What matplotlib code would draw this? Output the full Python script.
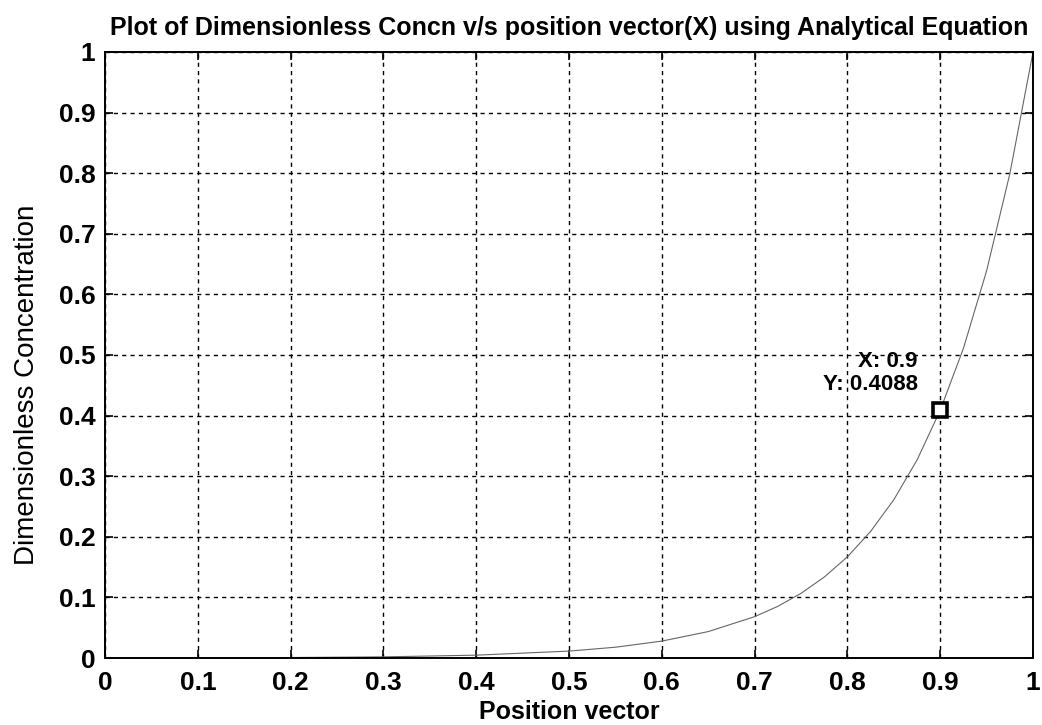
import matplotlib.pyplot as plt

plt.rcParams['font.family'] = ['Liberation Sans', 'DejaVu Sans']

# concentration profile read along the position vector
pos = [0.0, 0.1, 0.2, 0.3, 0.4, 0.5, 0.55, 0.6, 0.65, 0.7, 0.725, 0.75, 0.775,
       0.8, 0.825, 0.85, 0.875, 0.9, 0.925, 0.95, 0.975, 1.0]
conc = [0.0001, 0.0003, 0.0008, 0.0019, 0.0047, 0.0114, 0.0178, 0.0279, 0.0436,
        0.0682, 0.0853, 0.1067, 0.1335, 0.167, 0.2089, 0.2612, 0.3267, 0.4088,
        0.511, 0.639, 0.799, 1.0]

tip_x = 0.9
tip_y = 0.4088

ticks = [i / 10 for i in range(11)]
tick_labels = ['0', '0.1', '0.2', '0.3', '0.4', '0.5', '0.6', '0.7', '0.8', '0.9', '1']

fig = plt.figure(figsize=(10.42, 7.25), dpi=100)
ax = fig.add_axes([0.1008, 0.0924, 0.8906, 0.836])

ax.plot(pos, conc, color='#666666', lw=0.8)
ax.plot([tip_x], [tip_y], marker='s', ms=10, mfc='white', mec='black', mew=2.6, ls='none')
ax.text(tip_x - 0.024, tip_y + 0.061, 'X: %g\nY: %.4f' % (tip_x, tip_y),
        ha='right', va='center', multialignment='right',
        fontsize=16, fontweight='bold', linespacing=1.15)

ax.set_xlim(0, 1)
ax.set_ylim(0, 1)
ax.set_xticks(ticks)
ax.set_yticks(ticks)
ax.set_xticklabels(tick_labels)
ax.set_yticklabels(tick_labels)
ax.grid(True, color='black', ls=(0, (3, 3)), lw=1.0)
ax.tick_params(direction='in', length=6, width=1.2, labelsize=19,
               top=True, right=True)
ax.tick_params(axis='x', pad=9)
ax.tick_params(axis='y', pad=7)
for lab in ax.get_xticklabels() + ax.get_yticklabels():
    lab.set_fontweight('bold')
for s in ax.spines.values():
    s.set_linewidth(1.4)

ax.set_xlabel('Position vector', fontsize=18, fontweight='bold', labelpad=4)
ax.set_ylabel('Dimensionless Concentration', fontsize=20)
ax.yaxis.set_label_coords(-0.07, 0.45)
ax.set_title('Plot of Dimensionless Concn v/s position vector(X) using Analytical Equation',
             fontsize=18, fontweight='bold', pad=12)

fig.savefig('out.png', dpi=100)
